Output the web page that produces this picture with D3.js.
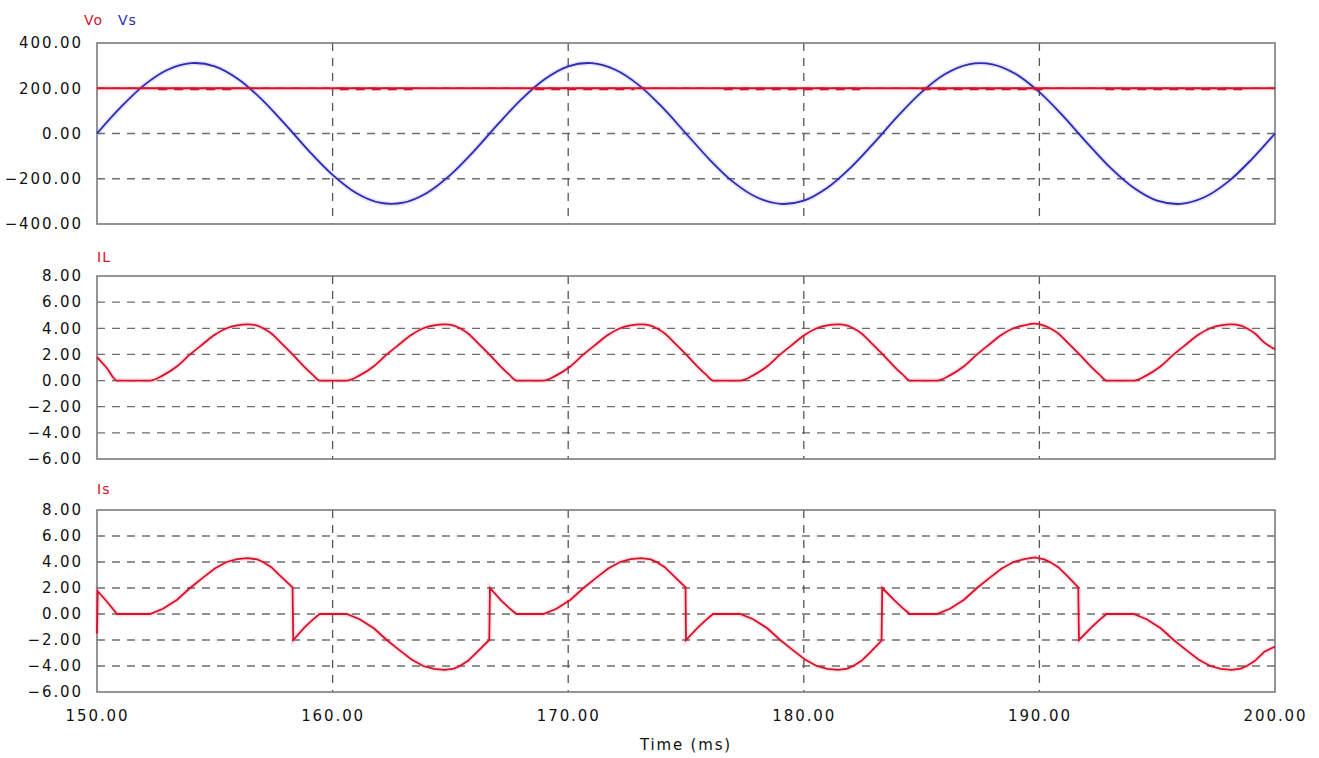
<!DOCTYPE html>
<html>
<head>
<meta charset="utf-8">
<script src="https://cdn.jsdelivr.net/npm/d3@7/dist/d3.min.js"></script>
<style>
  html, body { margin: 0; padding: 0; background: #fff; }
  text { font-family: "DejaVu Sans", Verdana, sans-serif; }
</style>
</head>
<body>
<div id="chart"></div>
<script>
"use strict";

// time axis (ms)
const xTicks = [150, 160, 170, 180, 190, 200];
const xGrid = [160, 170, 180, 190];

// Vs sampled every 1 ms from 150 ms
const vsTime = d3.range(150, 201, 1);
const vsValues = [0, 115, 214, 282, 311, 297, 240, 150, 39, -78, -183, -263, -306, -306, -263, -183, -78,
  39, 150, 240, 297, 311, 282, 214, 115, 0, -115, -214, -282, -311, -297, -240, -150, -39,
  78, 183, 263, 306, 306, 263, 183, 78, -39, -150, -240, -297, -311, -282, -214, -115, 0];

// Vo sits on 200 V, small ripple shows in these windows
const voLevel = 200;
const voRippleLevel = 196;
const voRipple = [[152.6, 155.8], [160.3, 163.6], [168.6, 172.8], [176.6, 182.4], [185.0, 190.4], [192.8, 198.9]];

// IL (A)
const ilPoints = [
  [150, 1.8], [150.4, 1.0], [150.85, 0],
  [152.25, 0], [152.8, 0.4], [153.4, 1.1], [153.95, 2.0], [154.5, 2.8], [155.0, 3.5], [155.5, 4.0], [155.95, 4.22], [156.4, 4.3],
  [156.8, 4.2], [157.05, 4.0], [157.4, 3.6], [157.8, 2.9], [158.3, 2.0], [158.8, 1.05], [159.15, 0.45], [159.45, 0],
  [160.6, 0], [161.15, 0.4], [161.75, 1.1], [162.3, 2.0], [162.85, 2.8], [163.35, 3.5], [163.85, 4.0], [164.3, 4.22], [164.75, 4.3],
  [165.15, 4.2], [165.4, 4.0], [165.75, 3.6], [166.15, 2.9], [166.65, 2.0], [167.15, 1.05], [167.5, 0.45], [167.8, 0],
  [168.95, 0], [169.5, 0.4], [170.1, 1.1], [170.65, 2.0], [171.2, 2.8], [171.7, 3.5], [172.2, 4.0], [172.65, 4.22], [173.1, 4.3],
  [173.5, 4.2], [173.75, 4.0], [174.1, 3.6], [174.5, 2.9], [175.0, 2.0], [175.5, 1.05], [175.85, 0.45], [176.15, 0],
  [177.3, 0], [177.85, 0.4], [178.45, 1.1], [179.0, 2.0], [179.55, 2.8], [180.05, 3.5], [180.55, 4.0], [181.0, 4.22], [181.45, 4.3],
  [181.85, 4.2], [182.1, 4.0], [182.45, 3.6], [182.85, 2.9], [183.35, 2.0], [183.85, 1.05], [184.2, 0.45], [184.5, 0],
  [185.65, 0], [186.2, 0.4], [186.8, 1.1], [187.35, 2.0], [187.9, 2.8], [188.4, 3.5], [188.9, 4.0], [189.35, 4.22], [189.8, 4.35],
  [190.2, 4.2], [190.45, 4.0], [190.8, 3.6], [191.2, 2.9], [191.7, 2.0], [192.2, 1.05], [192.55, 0.45], [192.85, 0],
  [194.0, 0], [194.55, 0.4], [195.15, 1.1], [195.7, 2.0], [196.25, 2.8], [196.75, 3.5], [197.25, 4.0], [197.7, 4.22], [198.15, 4.3],
  [198.55, 4.2], [198.8, 4.0], [199.15, 3.6], [199.55, 2.9], [200, 2.4]
];

// Is (A), steps at the Vs zero crossings
const isPoints = [
  [150, -1.5], [150.03, 1.75], [150.4, 1.0], [150.85, 0],
  [152.25, 0], [152.8, 0.4], [153.4, 1.1], [153.95, 2.0], [154.5, 2.8], [155.0, 3.5], [155.5, 4.0], [155.95, 4.22], [156.4, 4.3],
  [156.8, 4.2], [157.05, 4.0], [157.4, 3.6], [157.8, 2.9], [158.3, 2.05], [158.33, -2.0], [158.8, -1.05], [159.15, -0.45], [159.45, 0],
  [160.6, 0], [161.15, -0.4], [161.75, -1.1], [162.3, -2.0], [162.85, -2.8], [163.35, -3.5], [163.85, -4.0], [164.3, -4.22], [164.75, -4.3],
  [165.15, -4.2], [165.4, -4.0], [165.75, -3.6], [166.15, -2.9], [166.65, -2.0], [166.68, 2.0], [167.15, 1.05], [167.5, 0.45], [167.8, 0],
  [168.95, 0], [169.5, 0.4], [170.1, 1.1], [170.65, 2.0], [171.2, 2.8], [171.7, 3.5], [172.2, 4.0], [172.65, 4.22], [173.1, 4.3],
  [173.5, 4.2], [173.75, 4.0], [174.1, 3.6], [174.5, 2.9], [174.98, 2.05], [175.0, -2.0], [175.5, -1.05], [175.85, -0.45], [176.15, 0],
  [177.3, 0], [177.85, -0.4], [178.45, -1.1], [179.0, -2.0], [179.55, -2.8], [180.05, -3.5], [180.55, -4.0], [181.0, -4.22], [181.45, -4.3],
  [181.85, -4.2], [182.1, -4.0], [182.45, -3.6], [182.85, -2.9], [183.3, -2.05], [183.33, 2.0], [183.85, 1.05], [184.2, 0.45], [184.5, 0],
  [185.65, 0], [186.2, 0.4], [186.8, 1.1], [187.35, 2.0], [187.9, 2.8], [188.4, 3.5], [188.9, 4.0], [189.35, 4.22], [189.8, 4.35],
  [190.2, 4.2], [190.45, 4.0], [190.8, 3.6], [191.2, 2.9], [191.65, 2.05], [191.68, -2.0], [192.2, -1.05], [192.55, -0.45], [192.85, 0],
  [194.0, 0], [194.55, -0.4], [195.15, -1.1], [195.7, -2.0], [196.25, -2.8], [196.75, -3.5], [197.25, -4.0], [197.7, -4.22], [198.15, -4.3],
  [198.55, -4.2], [198.8, -4.0], [199.15, -3.6], [199.55, -2.9], [200, -2.5]
];

const vTicks = [-400, -200, 0, 200, 400];
const iTicks = [-6, -4, -2, 0, 2, 4, 6, 8];

const W = 1319, H = 758;
const left = 97, right = 1275;
const red = "#d8102c", blue = "#2b2bb5", gridCol = "#6e6e6e";

const svg = d3.select("#chart").append("svg")
  .attr("width", W).attr("height", H)
  .style("display", "block");

svg.append("rect").attr("width", W).attr("height", H).attr("fill", "#fff");

const x = d3.scaleLinear().domain([150, 200]).range([left, right]);
const fmt = d3.format(".2f");

function drawPanel(top, bottom, ticks) {
  const y = d3.scaleLinear().domain([ticks[0], ticks[ticks.length - 1]]).range([bottom, top]);
  const g = svg.append("g");

  // horizontal grid (inner ticks only)
  g.selectAll("line.hg").data(ticks.slice(1, -1)).enter()
    .append("line")
    .attr("x1", left).attr("x2", right)
    .attr("y1", d => y(d)).attr("y2", d => y(d))
    .attr("stroke", gridCol).attr("stroke-width", 1.3)
    .attr("stroke-dasharray", "8,7");

  g.selectAll("line.vg").data(xGrid).enter()
    .append("line")
    .attr("x1", d => x(d)).attr("x2", d => x(d))
    .attr("y1", top).attr("y2", bottom)
    .attr("stroke", "#555").attr("stroke-width", 1.3)
    .attr("stroke-dasharray", "8,7");

  // frame
  g.append("rect")
    .attr("x", left).attr("y", top)
    .attr("width", right - left).attr("height", bottom - top)
    .attr("fill", "none").attr("stroke", "#7a7a7a").attr("stroke-width", 1.6);

  // y tick labels
  const axis = d3.axisLeft(y).tickValues(ticks).tickFormat(fmt).tickSize(0).tickPadding(14);
  const ax = g.append("g").attr("transform", "translate(" + left + ",0)").call(axis);
  ax.select(".domain").remove();
  ax.selectAll("text")
    .attr("font-family", "DejaVu Sans, sans-serif")
    .style("font-size", "15px")
    .style("letter-spacing", "1.9px")
    .attr("fill", "#111");

  return { g: g, y: y };
}

function addLine(p, data, color, curve) {
  const line = d3.line()
    .x(d => x(d[0])).y(d => p.y(d[1]))
    .curve(curve);
  // faint halo like the original screen capture
  p.g.append("path").datum(data)
    .attr("d", line).attr("fill", "none")
    .attr("stroke", color).attr("stroke-opacity", 0.12).attr("stroke-width", 5);
  p.g.append("path").datum(data)
    .attr("d", line).attr("fill", "none")
    .attr("stroke", color).attr("stroke-width", 1.8);
}

function label(txt, xPos, yPos, color) {
  svg.append("text")
    .attr("x", xPos).attr("y", yPos)
    .attr("fill", color)
    .style("font-size", "14px")
    .style("letter-spacing", "1px")
    .text(txt);
}

// ---- panel 1: Vo, Vs
const p1 = drawPanel(43, 224, vTicks);
addLine(p1, vsTime.map((t, k) => [t, vsValues[k]]), blue, d3.curveCatmullRom);
addLine(p1, [[150, voLevel], [200, voLevel]], red, d3.curveLinear);
voRipple.forEach(function(r) {
  p1.g.append("line")
    .attr("x1", x(r[0])).attr("x2", x(r[1]))
    .attr("y1", p1.y(voRippleLevel)).attr("y2", p1.y(voRippleLevel))
    .attr("stroke", red).attr("stroke-width", 2)
    .attr("stroke-dasharray", "9,7");
});
label("Vo", 84, 25, red);
label("Vs", 118, 25, blue);

// ---- panel 2: IL
const p2 = drawPanel(276, 459, iTicks);
addLine(p2, ilPoints, red, d3.curveMonotoneX);
label("IL", 97, 262, red);

// ---- panel 3: Is
const p3 = drawPanel(510, 692, iTicks);
addLine(p3, isPoints, red, d3.curveLinear);
label("Is", 97, 494, red);

// x axis labels under the last panel
const xa = svg.append("g").attr("transform", "translate(0,692)")
  .call(d3.axisBottom(x).tickValues(xTicks).tickFormat(fmt).tickSize(0).tickPadding(18));
xa.select(".domain").remove();
xa.selectAll("text")
  .attr("font-family", "DejaVu Sans, sans-serif")
  .style("font-size", "15px")
  .style("letter-spacing", "1.9px")
  .attr("fill", "#111");

svg.append("text")
  .attr("x", (left + right) / 2).attr("y", 750)
  .attr("text-anchor", "middle")
  .attr("fill", "#111")
  .style("font-size", "15px")
  .style("letter-spacing", "1.8px")
  .text("Time (ms)");
</script>
</body>
</html>
